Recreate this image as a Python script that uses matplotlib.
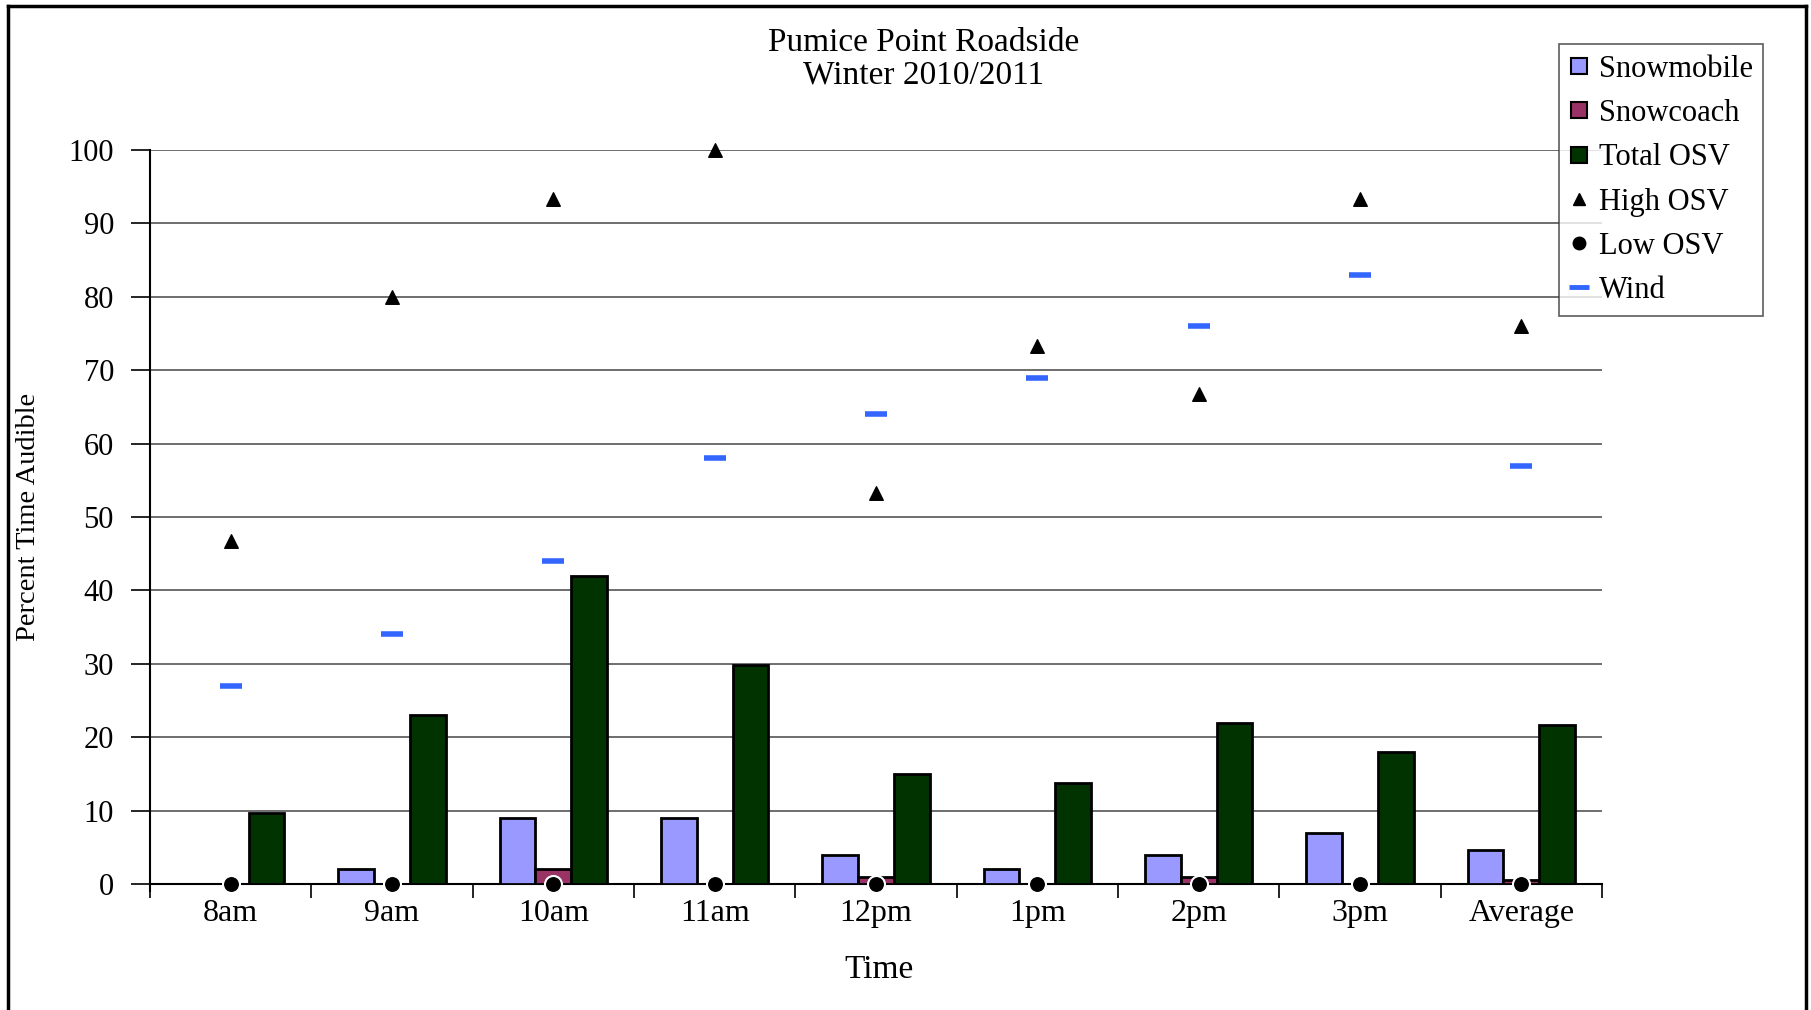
import matplotlib
matplotlib.use("Agg")
import matplotlib.pyplot as plt
import numpy as np
from matplotlib.lines import Line2D

plt.rcParams['font.family'] = ['Liberation Serif', 'DejaVu Serif']

categories = ["8am", "9am", "10am", "11am", "12pm", "1pm", "2pm", "3pm", "Average"]
snowmobile = [0, 2, 9, 9, 4, 2, 4, 7, 4.7]
snowcoach = [0, 0, 2, 0, 1, 0, 1, 0, 0.5]
total_osv = [9.7, 23, 42, 29.8, 15, 13.7, 22, 18, 21.6]
high_osv = [46.7, 80, 93.3, 100, 53.3, 73.3, 66.7, 93.3, 76]
low_osv = [0, 0, 0, 0, 0, 0, 0, 0, 0]
wind = [27, 34, 44, 58, 64, 69, 76, 83, 57]

c_mob = '#9999ff'
c_coach = '#993366'
c_total = '#003300'
c_wind = '#3366ff'

fig = plt.figure(figsize=(18.11, 10.10), dpi=100)
ax = fig.add_axes([150/1811, 1-884/1010, (1602-150)/1811, (884-150)/1010])

x = np.arange(len(categories))
w = 0.222
ax.bar(x - w, snowmobile, w, color=c_mob, edgecolor='black', linewidth=2, zorder=3)
ax.bar(x, snowcoach, w, color=c_coach, edgecolor='black', linewidth=2, zorder=3)
ax.bar(x + w, total_osv, w, color=c_total, edgecolor='black', linewidth=2, zorder=3)
ax.scatter(x, high_osv, marker='^', s=95, color='black', zorder=5, clip_on=False)
ax.scatter(x, low_osv, marker='o', s=150, color='black', edgecolor='white', linewidth=1.5, zorder=6, clip_on=False)
ax.scatter(x, wind, marker='_', s=230, color=c_wind, linewidth=4, zorder=5)

ax.set_xlim(-0.5, len(categories) - 0.5)
ax.set_ylim(0, 100)
ax.set_yticks(np.arange(0, 101, 10))
ax.yaxis.grid(True, color='#555555', linewidth=1.2, zorder=0)
ax.set_axisbelow(True)
for s in ['top', 'right']:
    ax.spines[s].set_visible(False)
ax.spines['left'].set_linewidth(1.5)
ax.spines['bottom'].set_linewidth(1.5)
ax.spines['left'].set_bounds(-1, 100)

ax.set_xticks(x)
ax.set_xticklabels(categories, fontsize=23)
ax.set_xticks(np.arange(-0.5, len(categories), 1), minor=True)
ax.tick_params(axis='x', which='major', length=0, pad=11)
ax.tick_params(axis='x', which='minor', length=10, width=1.2, direction='out')
ax.tick_params(axis='y', length=14, width=1.2, direction='out', labelsize=22, pad=12)

fig.text(924/1811, 1-43/1010, "Pumice Point Roadside", ha='center', va='center', fontsize=24)
fig.text(924/1811, 1-75/1010, "Winter 2010/2011", ha='center', va='center', fontsize=24)
fig.text(29/1811, 1-517/1010, "Percent Time Audible", rotation=90, ha='center', va='center', fontsize=20.5)
fig.text(879/1811, 1-970/1010, "Time", ha='center', va='center', fontsize=24)

handles = [
    Line2D([], [], marker='s', linestyle='none', markersize=11, markerfacecolor=c_mob, markeredgecolor='black', markeredgewidth=1.5),
    Line2D([], [], marker='s', linestyle='none', markersize=11, markerfacecolor=c_coach, markeredgecolor='black', markeredgewidth=1.5),
    Line2D([], [], marker='s', linestyle='none', markersize=11, markerfacecolor=c_total, markeredgecolor='black', markeredgewidth=1.5),
    Line2D([], [], marker='^', linestyle='none', markersize=9, color='black'),
    Line2D([], [], marker='o', linestyle='none', markersize=9, color='black'),
    Line2D([], [], marker='_', linestyle='none', markersize=15, markeredgewidth=3.5, color=c_wind),
]
labels = ["Snowmobile", "Snowcoach", "Total OSV", "High OSV", "Low OSV", "Wind"]
leg = fig.legend(handles, labels, loc='upper left', bbox_to_anchor=(1559/1811, 1-44/1010),
                 fontsize=22, frameon=True, fancybox=False, edgecolor='#333333',
                 handlelength=0.6, handletextpad=0.35, labelspacing=0.5, borderpad=0.35,
                 borderaxespad=0)
leg.get_frame().set_linewidth(1.2)

# figure border
fig.add_artist(Line2D([8/1811, 8/1811], [0, 1-6/1010], color='black', linewidth=2.5, transform=fig.transFigure))
fig.add_artist(Line2D([8/1811, 1806/1811], [1-6/1010, 1-6/1010], color='black', linewidth=2.5, transform=fig.transFigure))
fig.add_artist(Line2D([1806/1811, 1806/1811], [0, 1-6/1010], color='black', linewidth=2.5, transform=fig.transFigure))

fig.savefig("out.png", dpi=100)
